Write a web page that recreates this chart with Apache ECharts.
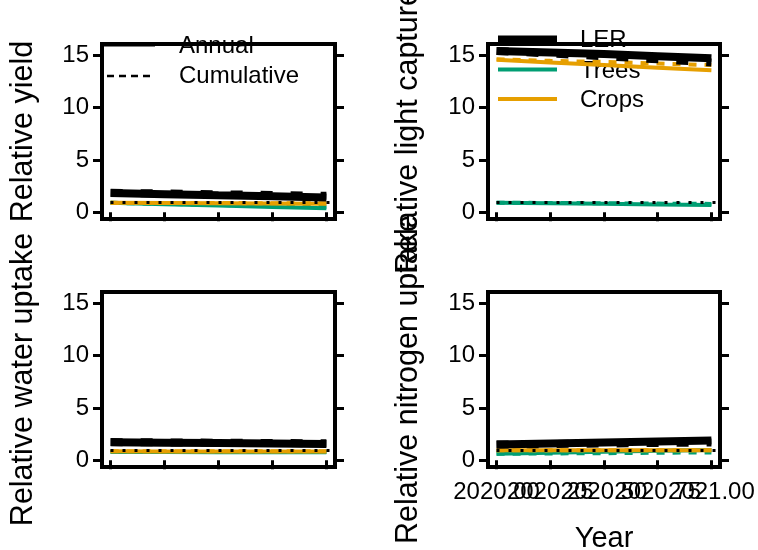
<!DOCTYPE html>
<html>
<head>
<meta charset="utf-8">
<script src="https://cdn.jsdelivr.net/npm/echarts@6/dist/echarts.min.js"></script>
<style>html,body{margin:0;padding:0;background:#fff;}#c{width:758px;height:550px;}</style>
</head>
<body>
<div id="c"></div>
<script>
// ---- data ----
const years = [2020, 2020.25, 2020.5, 2020.75, 2021];
const xTickLabels = ['2020.00', '2020.25', '2020.50', '2020.75', '2021.00'];
const yTicks = [0, 5, 10, 15];
const panelTitles = ['Relative yield', 'Relative light capture', 'Relative water uptake', 'Relative nitrogen uptake'];
const xTitle = 'Year';
const lineTypeLegend = ['Annual', 'Cumulative'];
const groupLegend = ['LER', 'Trees', 'Crops'];

// Relative yield
const yieldLerAnnual   = [1.84, 1.73, 1.62, 1.52, 1.41];
const yieldLerCum      = [1.86, 1.79, 1.72, 1.65, 1.58];
const yieldTreesAnnual = [0.90, 0.77, 0.64, 0.51, 0.38];
const yieldTreesCum    = [0.90, 0.80, 0.70, 0.60, 0.50];
const yieldCropsAnnual = [0.90, 0.88, 0.86, 0.84, 0.82];
const yieldCropsCum    = [0.90, 0.89, 0.88, 0.87, 0.86];
// Relative light capture
const lightLerAnnual   = [15.40, 15.25, 15.10, 14.90, 14.70];
const lightLerCum      = [15.40, 15.15, 14.90, 14.60, 14.30];
const lightTreesAnnual = [0.92, 0.87, 0.81, 0.75, 0.70];
const lightTreesCum    = [0.92, 0.89, 0.86, 0.83, 0.80];
const lightCropsAnnual = [14.55, 14.30, 14.05, 13.80, 13.55];
const lightCropsCum    = [14.60, 14.45, 14.35, 14.20, 14.05];
// Relative water uptake
const waterLerAnnual   = [1.72, 1.68, 1.64, 1.60, 1.56];
const waterLerCum      = [1.74, 1.71, 1.68, 1.65, 1.62];
const waterTreesAnnual = [0.78, 0.78, 0.77, 0.77, 0.77];
const waterTreesCum    = [0.79, 0.79, 0.78, 0.78, 0.78];
const waterCropsAnnual = [0.86, 0.85, 0.85, 0.85, 0.85];
const waterCropsCum    = [0.87, 0.86, 0.86, 0.86, 0.86];
// Relative nitrogen uptake
const nitroLerAnnual   = [1.50, 1.60, 1.70, 1.80, 1.90];
const nitroLerCum      = [1.50, 1.55, 1.60, 1.65, 1.70];
const nitroTreesAnnual = [0.62, 0.72, 0.81, 0.90, 0.98];
const nitroTreesCum    = [0.62, 0.65, 0.68, 0.72, 0.75];
const nitroCropsAnnual = [0.95, 0.95, 0.95, 0.96, 0.96];
const nitroCropsCum    = [0.95, 0.95, 0.95, 0.95, 0.95];

const refLine = 1;

// ---- layout / style ----
const FONT = "'Liberation Sans', Arial, sans-serif";
const COL = { LER: '#000000', Trees: '#009E73', Crops: '#E69F00' };
const grids = [
  { left: 102, top: 44, width: 233, height: 175 },
  { left: 488, top: 44, width: 232, height: 175 },
  { left: 102, top: 292, width: 233, height: 175 },
  { left: 488, top: 292, width: 232, height: 175 }
];
const panelData = [
  { ler: [yieldLerAnnual, yieldLerCum], trees: [yieldTreesAnnual, yieldTreesCum], crops: [yieldCropsAnnual, yieldCropsCum] },
  { ler: [lightLerAnnual, lightLerCum], trees: [lightTreesAnnual, lightTreesCum], crops: [lightCropsAnnual, lightCropsCum] },
  { ler: [waterLerAnnual, waterLerCum], trees: [waterTreesAnnual, waterTreesCum], crops: [waterCropsAnnual, waterCropsCum] },
  { ler: [nitroLerAnnual, nitroLerCum], trees: [nitroTreesAnnual, nitroTreesCum], crops: [nitroCropsAnnual, nitroCropsCum] }
];
const XMIN = 2019.96, XMAX = 2021.04, YMIN = -0.64, YMAX = 16.06;

const gridOpt = grids.map(g => Object.assign({
  show: true, borderColor: '#000', borderWidth: 4, backgroundColor: 'transparent',
  containLabel: false, outerBoundsMode: 'none'
}, g));
const tickStyle = { show: true, length: 9, lineStyle: { color: '#000', width: 3 } };
const labelBase = { color: '#000', fontSize: 24, fontFamily: FONT, showMinLabel: true, showMaxLabel: true, hideOverlap: false };
const fmtX = v => xTickLabels[years.indexOf(v)];

const xAxes = grids.map((g, i) => ({
  type: 'value', gridIndex: i, min: XMIN, max: XMAX, position: 'bottom', offset: 0,
  axisLine: { show: false }, splitLine: { show: false },
  axisTick: Object.assign({ customValues: years }, tickStyle),
  axisLabel: Object.assign({}, labelBase, {
    show: i === 3, customValues: years.filter((v, k) => k % 2 === 0), margin: 13, formatter: fmtX
  }),
  name: i === 3 ? xTitle : '', nameLocation: 'middle', nameGap: 57,
  nameTextStyle: { color: '#000', fontSize: 29, fontFamily: FONT }
}));
// second label layer for the bottom-right panel (labels overlap, as in the original)
xAxes.push({
  type: 'value', gridIndex: 3, min: XMIN, max: XMAX, position: 'bottom', offset: 0,
  axisLine: { show: false }, splitLine: { show: false }, axisTick: { show: false },
  axisLabel: Object.assign({}, labelBase, {
    customValues: years.filter((v, k) => k % 2 === 1), margin: 13, formatter: fmtX
  })
});

const yAxes = [];
grids.forEach((g, i) => {
  yAxes.push({
    type: 'value', gridIndex: i, min: YMIN, max: YMAX, position: 'left',
    axisLine: { show: false }, splitLine: { show: false },
    axisTick: Object.assign({ customValues: yTicks }, tickStyle),
    axisLabel: Object.assign({}, labelBase, { customValues: yTicks, margin: 13 }),
    name: panelTitles[i], nameLocation: 'middle', nameRotate: 90, nameGap: i % 2 ? 64 : 63,
    nameTextStyle: { color: '#000', fontSize: 30.5, fontFamily: FONT }
  });
  yAxes.push({
    type: 'value', gridIndex: i, min: YMIN, max: YMAX, position: 'right',
    axisLine: { show: false }, splitLine: { show: false },
    axisTick: Object.assign({ customValues: yTicks }, tickStyle),
    axisLabel: { show: false, customValues: yTicks }
  });
});

const series = [];
function pts(arr) { return years.map((x, k) => [x, arr[k]]); }
panelData.forEach((p, i) => {
  const common = { type: 'line', xAxisIndex: i, yAxisIndex: 2 * i, symbol: 'none', silent: true, animation: false };
  series.push(Object.assign({}, common, { z: 2, data: pts(p.trees[0]), lineStyle: { color: COL.Trees, width: 4 } }));
  series.push(Object.assign({}, common, { z: 2, data: pts(p.trees[1]), lineStyle: { color: COL.Trees, width: 4, type: [8, 8] } }));
  series.push(Object.assign({}, common, { z: 3, data: pts(p.crops[0]), lineStyle: { color: COL.Crops, width: 4 } }));
  series.push(Object.assign({}, common, { z: 3, data: pts(p.crops[1]), lineStyle: { color: COL.Crops, width: 4, type: [8, 8] } }));
  series.push(Object.assign({}, common, { z: 4, data: pts(p.ler[0]), lineStyle: { color: COL.LER, width: 8 } }));
  series.push(Object.assign({}, common, { z: 4, data: pts(p.ler[1]), lineStyle: { color: COL.LER, width: 8, type: [12, 18] } }));
  series.push(Object.assign({}, common, {
    z: 6, data: [],
    markLine: {
      silent: true, symbol: 'none', animation: false, label: { show: false },
      lineStyle: { color: '#000', width: 3, type: [3, 9], dashOffset: 3.5 },
      data: [{ yAxis: refLine }]
    }
  }));
});

// legends (drawn beneath the frame)
const txt = (x, y, s) => ({ type: 'text', z: -10, x: x, y: y, style: { text: s, fill: '#000', font: '24px ' + FONT, textVerticalAlign: 'middle' } });
const ln = (x1, x2, y, c, w, dash) => ({ type: 'line', z: -10, shape: { x1: x1, y1: y, x2: x2, y2: y }, style: { stroke: c, lineWidth: w, lineDash: dash || null } });
const graphic = [
  ln(102, 155, 45, '#000', 3), txt(179, 46, lineTypeLegend[0]),
  ln(107, 152, 76, '#000', 2.5, [7, 5]), txt(179, 76, lineTypeLegend[1]),
  ln(498, 557, 39, COL.LER, 7), txt(580, 40, groupLegend[0]),
  ln(498, 557, 69.5, COL.Trees, 4), txt(580, 71, groupLegend[1]),
  ln(498, 557, 99, COL.Crops, 4), txt(580, 100, groupLegend[2])
];

const chart = echarts.init(document.getElementById('c'), null, { renderer: 'canvas' });
chart.setOption({
  animation: false,
  backgroundColor: '#fff',
  grid: gridOpt,
  xAxis: xAxes,
  yAxis: yAxes,
  series: series,
  graphic: graphic
});
</script>
</body>
</html>
